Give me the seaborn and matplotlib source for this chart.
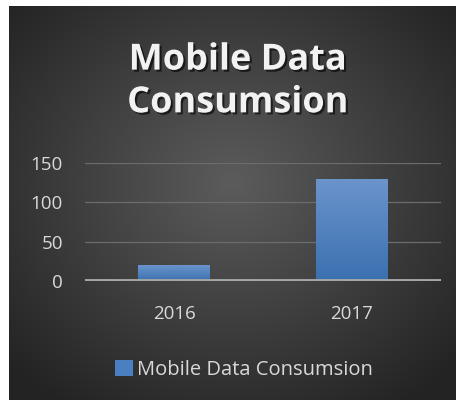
import numpy as np
import pandas as pd
import seaborn as sns
import matplotlib.pyplot as plt
from matplotlib import patheffects

years = ["2016", "2017"]
consumption = [20, 130]
y_ticks = [0, 50, 100, 150]
series_name = "Mobile Data Consumsion"
title = "Mobile Data\nConsumsion"

sns.set_style("white")
plt.rcParams["font.family"] = ["Open Sans", "DejaVu Sans"]

W, H = 463, 400
fig = plt.figure(figsize=(W / 100, H / 100), dpi=100, facecolor="white")

# radial gradient background panel
bg = fig.add_axes([9 / W, 0, (456 - 9) / W, (400 - 6) / H])
gx, gy = np.meshgrid(np.linspace(-1, 1, 300), np.linspace(-1, 1, 300))
r = np.clip(np.sqrt(gx ** 2 + (gy + 0.1) ** 2) / 1.35, 0, 1)
shade = 0.36 - 0.22 * r
bg.imshow(np.dstack([shade] * 3), extent=[0, 1, 0, 1], aspect="auto")
bg.set_axis_off()

df = pd.DataFrame({"year": years, "value": consumption})

ax = fig.add_axes([85 / W, 1 - 281 / H, (441 - 85) / W, (281 - 163) / H])
ax.patch.set_alpha(0)
sns.barplot(data=df, x="year", y="value", color="#4a7fc1", width=0.40, ax=ax,
            saturation=1, label=series_name)

# blue vertical gradient inside each bar
grad = np.linspace(0, 1, 100).reshape(-1, 1)
top = np.array([0.42, 0.58, 0.80])
bot = np.array([0.23, 0.44, 0.69])
cols = (bot + (top - bot) * grad[:, :, None]).reshape(100, 1, 3)
for p in ax.patches:
    x0, y0 = p.get_x(), p.get_y()
    w, h = p.get_width(), p.get_height()
    im = ax.imshow(cols, extent=[x0, x0 + w, y0, y0 + h], origin="lower",
                   aspect="auto", zorder=p.get_zorder())
    im.set_clip_path(p)
    p.set_facecolor("none")
    p.set_edgecolor("none")

ax.set_xlim(-0.5, 1.5)
ax.set_ylim(0, 150)
ax.set_yticks(y_ticks)
ax.set_xlabel("")
ax.set_ylabel("")
for v in y_ticks[1:]:
    ax.axhline(v, color="#6c6c6c", lw=0.9, zorder=0)
ax.axhline(0, color="#a6a6a6", lw=2.8, zorder=5)
for s in ax.spines.values():
    s.set_visible(False)
ax.tick_params(axis="both", length=0, colors="#d9d9d9", labelsize=13.5)
ax.tick_params(axis="y", pad=16)
ax.tick_params(axis="x", pad=17)

leg = ax.legend(loc="center", bbox_to_anchor=(244 / W, 1 - 370 / H),
                bbox_transform=fig.transFigure, frameon=False, fontsize=14.5,
                handlelength=0.85, handleheight=0.85, handletextpad=0.2)
for t in leg.get_texts():
    t.set_color("#d9d9d9")
for hnd in leg.legend_handles:
    hnd.set_facecolor("#4a7fc1")

fig.text(238 / W, 1 - 82 / H, title, ha="center", va="center",
         fontsize=26, fontweight="bold", color="#f2f2f2", linespacing=1.25,
         path_effects=[patheffects.withSimplePatchShadow(offset=(1.5, -1.5),
                                                         shadow_rgbFace="black",
                                                         alpha=0.6)])

fig.savefig("out.png", dpi=100, facecolor="white")
